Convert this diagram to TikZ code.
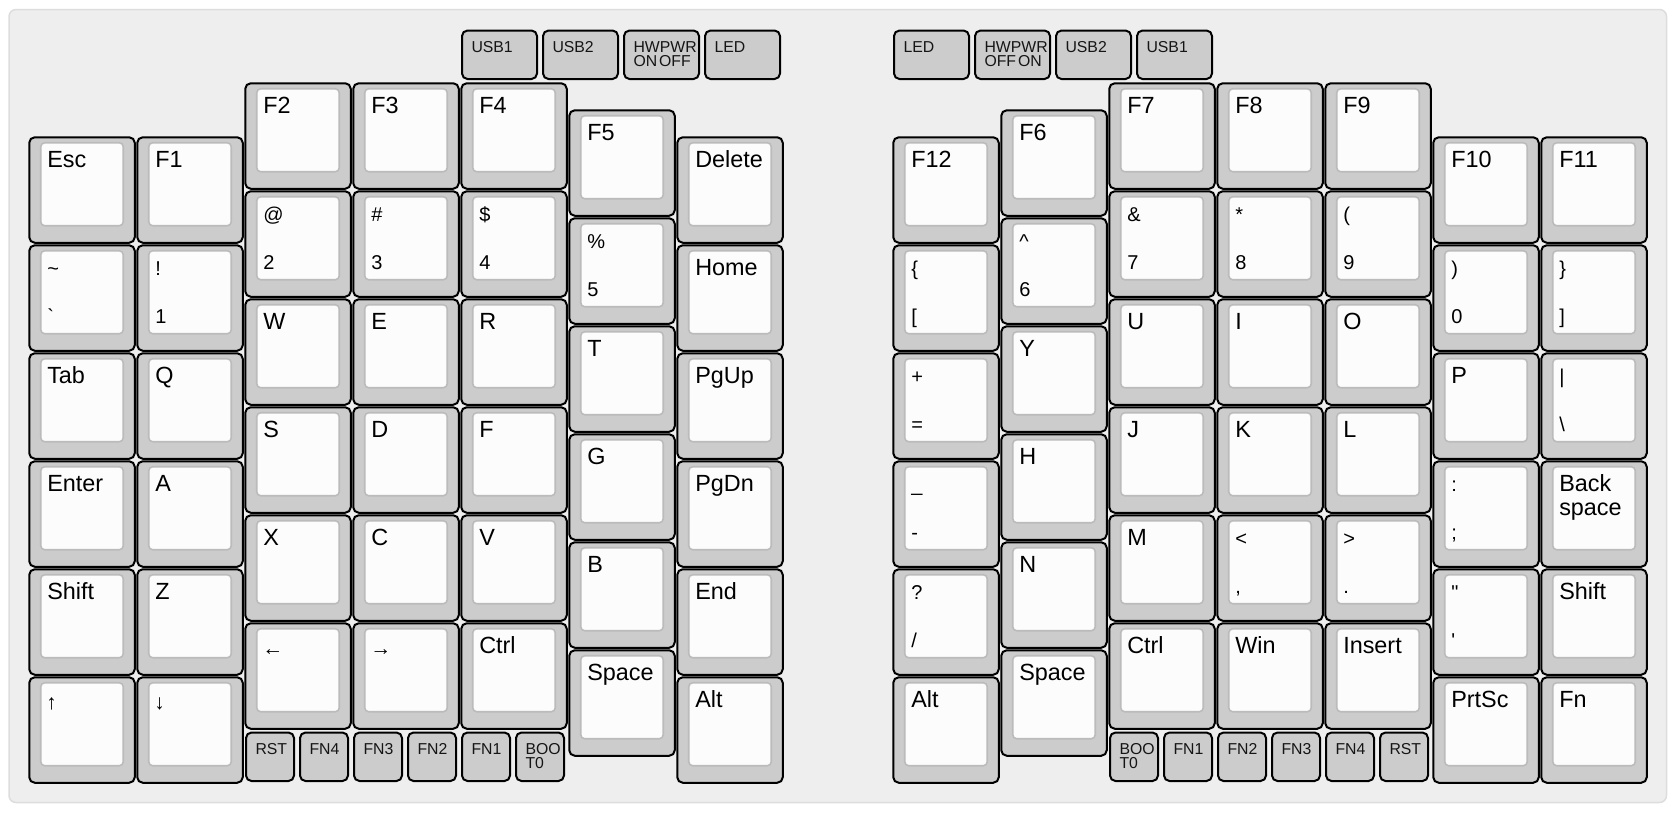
\documentclass[tikz,border=0pt]{standalone}
\usepackage{fontspec}
\setmainfont{Liberation Sans}[Ligatures=TeXOff]
\usetikzlibrary{calc}
\definecolor{panelbg}{HTML}{EEEEEE}
\definecolor{panelline}{HTML}{DDDDDD}
\definecolor{keygray}{HTML}{CCCCCC}
\definecolor{capwhite}{HTML}{FCFCFC}
\definecolor{capline}{HTML}{BBBBBB}
\definecolor{smallink}{HTML}{151515}
\tikzset{
  keyouter/.style={draw=black, line width=2pt, fill=keygray, rounded corners=5.5pt,
    minimum width=105.5pt, minimum height=105.5pt, inner sep=0pt, outer sep=0pt, anchor=north west},
  keyinner/.style={draw=capline, line width=1.6pt, fill=capwhite, rounded corners=4pt},
  legendA/.style={anchor=base west, inner sep=0pt, outer sep=0pt, font=\fontsize{23.4}{28}\selectfont},
  legendB/.style={anchor=base west, inner sep=0pt, outer sep=0pt, font=\fontsize{20}{24}\selectfont},
  legendR/.style={anchor=base west, inner sep=0pt, outer sep=0pt, font=\fontsize{21}{25}\selectfont},
  smallkey/.style={draw=black, line width=2pt, fill=keygray, rounded corners=5.5pt,
    minimum height=48.5pt, inner sep=0pt, outer sep=0pt, anchor=north west},
  smalltext/.style={anchor=base west, inner sep=0pt, outer sep=0pt, text=smallink,
    font=\fontsize{15.8}{18}\selectfont},
}
% single legend key: x y name label
\newcommand\KeyA[4]{%
  \node[keyouter] (#3) at ({29.25+#1*108},{83.25+#2*108}) {};
  \draw[keyinner] ($(#3.north west)+(11.5,5.5)$) rectangle ($(#3.south east)+(-11.5,-17)$);
  \node[legendA] (#3-a) at ($(#3.north west)+(18,30.5)$) {#4};}
% two legends key: x y name top bottom
\newcommand\KeyB[5]{%
  \node[keyouter] (#3) at ({29.25+#1*108},{83.25+#2*108}) {};
  \draw[keyinner] ($(#3.north west)+(11.5,5.5)$) rectangle ($(#3.south east)+(-11.5,-17)$);
  \node[legendB] (#3-a) at ($(#3.north west)+(18,30.5)$) {#4};
  \node[legendB] (#3-b) at ($(#3.north west)+(18,78.5)$) {#5};}
% single legend on two lines
\newcommand\KeyC[5]{%
  \node[keyouter] (#3) at ({29.25+#1*108},{83.25+#2*108}) {};
  \draw[keyinner] ($(#3.north west)+(11.5,5.5)$) rectangle ($(#3.south east)+(-11.5,-17)$);
  \node[legendA] (#3-a) at ($(#3.north west)+(18,30.5)$) {#4};
  \node[legendA] (#3-b) at ($(#3.north west)+(18,54.5)$) {#5};}
% arrow key
\newcommand\KeyR[4]{%
  \node[keyouter] (#3) at ({29.25+#1*108},{83.25+#2*108}) {};
  \draw[keyinner] ($(#3.north west)+(11.5,5.5)$) rectangle ($(#3.south east)+(-11.5,-17)$);
  \node[legendR] (#3-a) at ($(#3.north west)+(17,32)$) {#4};}
% small key: x y w name text
\newcommand\SKey[5]{%
  \node[smallkey, minimum width={#3*108-6}] (#4) at ({30+#1*108},{84.5+#2*108}) {};
  \node[smalltext] (#4-a) at ($(#4.north west)+(9.5,22)$) {#5};}
% small key with two text lines
\newcommand\SKeyB[6]{%
  \node[smallkey, minimum width={#3*108-6}] (#4) at ({30+#1*108},{84.5+#2*108}) {};
  \node[smalltext] (#4-a) at ($(#4.north west)+(9.5,22)$) {#5};
  \node[smalltext] (#4-b) at ($(#4.north west)+(9.5,36)$) {#6};}

\begin{document}
\begin{tikzpicture}[x=1pt,y=-1pt]
\useasboundingbox (0,0) rectangle (1680,812);
\fill[white] (0,0) rectangle (1680,812);
\draw[panelline, fill=panelbg, line width=1.5pt, rounded corners=7pt] (9,9.5) rectangle (1666.5,802.5);

% ---------------- left half ----------------
\SKey{4}{-0.5}{0.75}{lusb1}{USB1}
\SKey{4.75}{-0.5}{0.75}{lusb2}{USB2}
\SKeyB{5.5}{-0.5}{0.75}{lhw}{HWPWR}{ON\hspace{2pt}OFF}
\SKey{6.25}{-0.5}{0.75}{lled}{LED}

% col 0
\KeyA{0}{0.5}{esc}{Esc}
\KeyB{0}{1.5}{tilde}{\textasciitilde}{\symbol{96}}
\KeyA{0}{2.5}{tab}{Tab}
\KeyA{0}{3.5}{enter}{Enter}
\KeyA{0}{4.5}{lshift}{Shift}
\KeyR{0}{5.5}{up}{↑}
% col 1
\KeyA{1}{0.5}{f1}{F1}
\KeyB{1}{1.5}{k1}{!}{1}
\KeyA{1}{2.5}{q}{Q}
\KeyA{1}{3.5}{a}{A}
\KeyA{1}{4.5}{z}{Z}
\KeyR{1}{5.5}{down}{↓}
% col 2
\KeyA{2}{0}{f2}{F2}
\KeyB{2}{1}{k2}{@}{2}
\KeyA{2}{2}{w}{W}
\KeyA{2}{3}{s}{S}
\KeyA{2}{4}{x}{X}
\KeyR{2}{5}{left}{←}
% col 3
\KeyA{3}{0}{f3}{F3}
\KeyB{3}{1}{k3}{\#}{3}
\KeyA{3}{2}{e}{E}
\KeyA{3}{3}{d}{D}
\KeyA{3}{4}{c}{C}
\KeyR{3}{5}{right}{→}
% col 4
\KeyA{4}{0}{f4}{F4}
\KeyB{4}{1}{k4}{\$}{4}
\KeyA{4}{2}{r}{R}
\KeyA{4}{3}{f}{F}
\KeyA{4}{4}{v}{V}
\KeyA{4}{5}{lctrl}{Ctrl}
% col 5
\KeyA{5}{0.25}{f5}{F5}
\KeyB{5}{1.25}{k5}{\%}{5}
\KeyA{5}{2.25}{t}{T}
\KeyA{5}{3.25}{g}{G}
\KeyA{5}{4.25}{b}{B}
\KeyA{5}{5.25}{lspace}{Space}
% col 6
\KeyA{6}{0.5}{del}{Delete}
\KeyA{6}{1.5}{home}{Home}
\KeyA{6}{2.5}{pgup}{PgUp}
\KeyA{6}{3.5}{pgdn}{PgDn}
\KeyA{6}{4.5}{end}{End}
\KeyA{6}{5.5}{lalt}{Alt}

\SKey{2}{6}{0.5}{lrst}{RST}
\SKey{2.5}{6}{0.5}{lfn4}{FN4}
\SKey{3}{6}{0.5}{lfn3}{FN3}
\SKey{3.5}{6}{0.5}{lfn2}{FN2}
\SKey{4}{6}{0.5}{lfn1}{FN1}
\SKeyB{4.5}{6}{0.5}{lboot}{BOO}{T0}

% ---------------- right half ----------------
\SKey{8}{-0.5}{0.75}{rled}{LED}
\SKeyB{8.75}{-0.5}{0.75}{rhw}{HWPWR}{OFF\hspace{2pt}ON}
\SKey{9.5}{-0.5}{0.75}{rusb2}{USB2}
\SKey{10.25}{-0.5}{0.75}{rusb1}{USB1}

% col 0
\KeyA{8}{0.5}{f12}{F12}
\KeyB{8}{1.5}{brace}{\{}{[}
\KeyB{8}{2.5}{plus}{+}{=}
\KeyB{8}{3.5}{minus}{\_}{-}
\KeyB{8}{4.5}{slash}{?}{/}
\KeyA{8}{5.5}{ralt}{Alt}
% col 1
\KeyA{9}{0.25}{f6}{F6}
\KeyB{9}{1.25}{k6}{\textasciicircum}{6}
\KeyA{9}{2.25}{y}{Y}
\KeyA{9}{3.25}{h}{H}
\KeyA{9}{4.25}{n}{N}
\KeyA{9}{5.25}{rspace}{Space}
% col 2
\KeyA{10}{0}{f7}{F7}
\KeyB{10}{1}{k7}{\&}{7}
\KeyA{10}{2}{u}{U}
\KeyA{10}{3}{j}{J}
\KeyA{10}{4}{m}{M}
\KeyA{10}{5}{rctrl}{Ctrl}
% col 3
\KeyA{11}{0}{f8}{F8}
\KeyB{11}{1}{k8}{*}{8}
\KeyA{11}{2}{i}{I}
\KeyA{11}{3}{k}{K}
\KeyB{11}{4}{comma}{<}{,}
\KeyA{11}{5}{win}{Win}
% col 4
\KeyA{12}{0}{f9}{F9}
\KeyB{12}{1}{k9}{(}{9}
\KeyA{12}{2}{o}{O}
\KeyA{12}{3}{l}{L}
\KeyB{12}{4}{period}{>}{.}
\KeyA{12}{5}{ins}{Insert}
% col 5
\KeyA{13}{0.5}{f10}{F10}
\KeyB{13}{1.5}{k0}{)}{0}
\KeyA{13}{2.5}{p}{P}
\KeyB{13}{3.5}{semi}{:}{;}
\KeyB{13}{4.5}{quote}{"}{\symbol{39}}
\KeyA{13}{5.5}{prtsc}{PrtSc}
% col 6
\KeyA{14}{0.5}{f11}{F11}
\KeyB{14}{1.5}{rbrace}{\}}{]}
\KeyB{14}{2.5}{bar}{|}{\textbackslash}
\KeyC{14}{3.5}{bksp}{Back}{space}
\KeyA{14}{4.5}{rshift}{Shift}
\KeyA{14}{5.5}{fn}{Fn}

\SKeyB{10}{6}{0.5}{rboot}{BOO}{T0}
\SKey{10.5}{6}{0.5}{rfn1}{FN1}
\SKey{11}{6}{0.5}{rfn2}{FN2}
\SKey{11.5}{6}{0.5}{rfn3}{FN3}
\SKey{12}{6}{0.5}{rfn4}{FN4}
\SKey{12.5}{6}{0.5}{rrst}{RST}
\end{tikzpicture}
\end{document}
